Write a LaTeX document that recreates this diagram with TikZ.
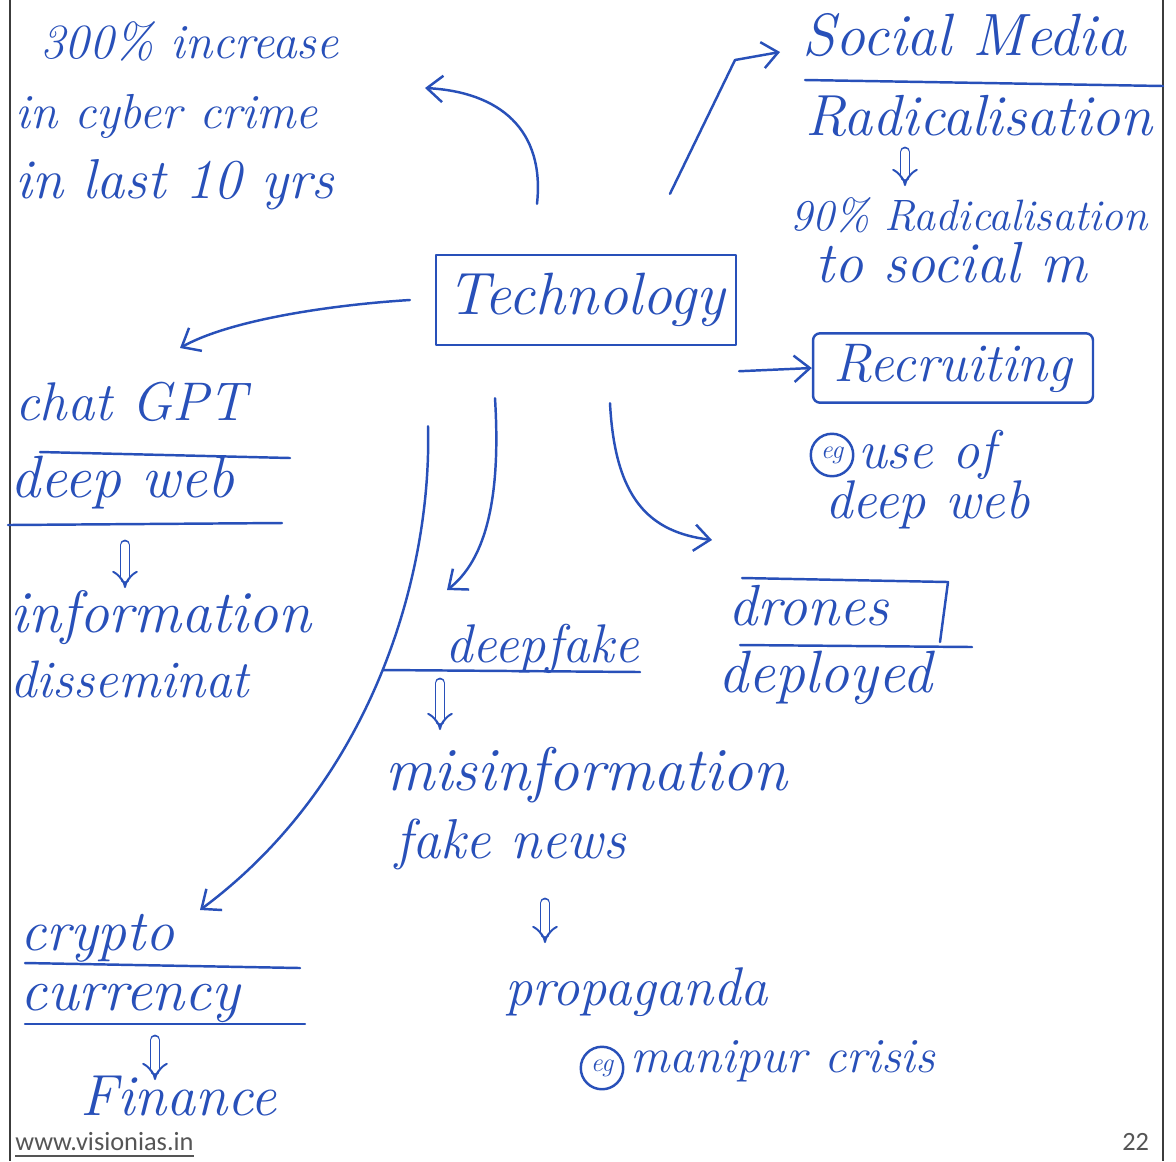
\documentclass[tikz,border=0pt]{standalone}
\usepackage{fontspec}
\newfontfamily\footfont{Carlito}
\usetikzlibrary{arrows.meta,calc}
\definecolor{ink}{RGB}{40,80,185}
\definecolor{pagerule}{RGB}{60,60,60}
\definecolor{footgray}{RGB}{85,85,85}
\newcommand{\hand}[1]{\fontsize{#1}{#1}\selectfont\itshape}

\begin{document}
\begin{tikzpicture}[x=0.02cm,y=-0.02cm,
  pen/.style={draw=ink, line width=1.4pt, line cap=round, line join=round},
  conn/.style={pen, -{Straight Barb[length=9pt,width=15pt,line width=1.4pt]}},
  dbl/.style={draw=ink, line width=1.1pt, double distance=4pt, line cap=round, -{Implies[length=7pt]}},
  txt/.style={text=ink, font=\hand{31}, inner sep=0pt, anchor=base west},
  boxed/.style={pen, rectangle, inner sep=6pt, text=ink, font=\hand{31}},
  egmark/.style={pen, circle, minimum size=0.85cm, inner sep=0pt, text=ink, font=\hand{15}},
  foot/.style={text=footgray, font=\footfont\fontsize{15}{18}\selectfont, inner sep=0pt, anchor=base west}
]
% page frame
\useasboundingbox (0,0) rectangle (1176,1161);
\fill[white] (0,0) rectangle (1176,1161);
\draw[pagerule, line width=1.3pt] (10,0) -- (10,1161);
\draw[pagerule, line width=1.3pt] (1163,0) -- (1163,1161);

% central topic
\node[boxed, font=\hand{34}, minimum width=6cm, minimum height=1.8cm] (tech) at (586,300) {Technology};

% top-left branch
\node[txt, font=\hand{28}] (inc1) at (40,58) {300\% increase};
\node[txt, font=\hand{28}] (inc2) at (15,128) {in cyber crime};
\node[txt, font=\hand{32}] (inc3) at (15,198) {in last 10 yrs};

% top-right branch
\node[txt, font=\hand{34}] (sm) at (802,55) {Social Media};
\draw[pen] (805,80) -- (1163,86);
\node[txt, font=\hand{33}] (rad) at (805,135) {Radicalisation};
\node[txt, font=\hand{25}] (rad90) at (790,230) {90\% Radicalisation};
\node[txt, font=\hand{33}] (rad90b) at (815,282) {to social m};
\node[boxed, minimum width=5.6cm, minimum height=1.3cm, rounded corners=4pt] (rec) at (953,368) {Recruiting};
\node[egmark] (eg1) at (832,455) {eg};
\node[txt] (use) at (858,468) {use of};
\node[txt] (dweb) at (825,518) {deep web};

% left branch
\node[txt] (chat) at (15,420) {chat GPT};
\draw[pen] (40,452) -- (290,458);
\node[txt, font=\hand{34}] (dw) at (10,497) {deep web};
\draw[pen] (8,525) -- (282,523);
\node[txt, font=\hand{34}] (info) at (10,632) {information};
\node[txt, font=\hand{30}] (diss) at (10,697) {disseminat};

% lower middle branch
\node[txt] (df) at (445,662) {deepfake};
\draw[pen] (383,670) -- (640,672);
\node[txt, font=\hand{35}] (mis) at (385,790) {misinformation};
\node[txt, font=\hand{32}] (fake) at (395,858) {fake news};
\node[txt] (prop) at (505,1005) {propaganda};
\node[egmark] (eg2) at (602,1068) {eg};
\node[txt, font=\hand{28}] (manip) at (630,1072) {manipur crisis};

% lower right branch
\node[txt, font=\hand{33}] (drones) at (728,625) {drones};
\draw[pen] (742,578) -- (948,582) -- (940,642);
\draw[pen] (740,645) -- (972,647);
\node[txt, font=\hand{34}] (depl) at (718,692) {deployed};

% bottom-left branch
\node[txt, font=\hand{33}] (crypto) at (20,950) {crypto};
\draw[pen] (25,963) -- (300,968);
\node[txt, font=\hand{34}] (curr) at (20,1010) {currency};
\draw[pen] (25,1024) -- (305,1024);
\node[txt, font=\hand{33}] (fin) at (80,1115) {Finance};

% footer
\node[foot] (site) at (15,1150) {www.visionias.in};
\draw[footgray, line width=0.8pt] ($(site.base west)+(0,6)$) -- ($(site.base east)+(0,6)$);
\node[foot] (pg) at (1122,1150) {22};

% connectors out of the central topic
\coordinate (aInc) at (425,88);
\draw[conn] ([shift={(-49,-50)}]tech.north) .. controls (545,130) and (500,92) .. (aInc);

\coordinate (bend) at (735,60);
\coordinate (aSm) at (780,52);
\draw[conn] ([shift={(84,-60)}]tech.north) -- (bend) -- (aSm);

\draw[conn] ([shift={(2,25)}]tech.south east) -- (rec.west);

\coordinate (aChat) at (180,348);
\draw[conn] ([shift={(-25,0)}]tech.west) .. controls (330,305) and (230,320) .. (aChat);

\coordinate (aCrypto) at (200,910);
\draw[conn] ([shift={(-158,80)}]tech.south) .. controls (432,570) and (375,780) .. (aCrypto);

\coordinate (aDf) at (447,590);
\draw[conn] ([shift={(-91,52)}]tech.south) .. controls (500,480) and (492,555) .. (aDf);

\coordinate (aDr) at (712,540);
\draw[conn] ([shift={(24,57)}]tech.south) .. controls (615,500) and (650,532) .. (aDr);

% implication arrows
\coordinate (r1) at (905,152); \coordinate (r2) at (905,186);
\draw[dbl] (r1) -- (r2);
\coordinate (w1) at (125,545); \coordinate (w2) at (125,588);
\draw[dbl] (w1) -- (w2);
\coordinate (f1) at (440,683); \coordinate (f2) at (440,730);
\draw[dbl] (f1) -- (f2);
\coordinate (n1) at (545,903); \coordinate (n2) at (545,943);
\draw[dbl] (n1) -- (n2);
\coordinate (c1) at (155,1040); \coordinate (c2) at (155,1080);
\draw[dbl] (c1) -- (c2);
\end{tikzpicture}
\end{document}
